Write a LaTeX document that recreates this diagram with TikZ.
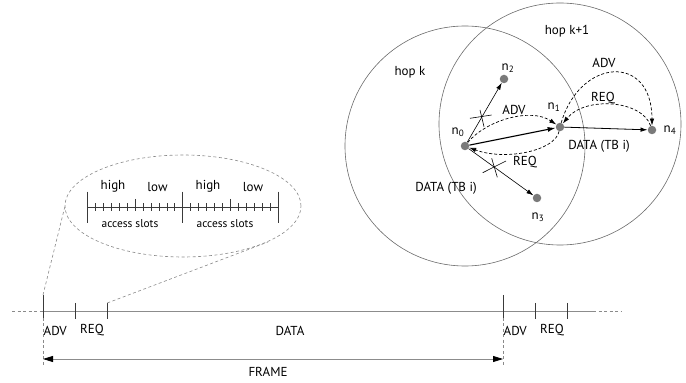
\documentclass[tikz,border=0pt]{standalone}
\usepackage{fontspec}
\setmainfont{PT Sans}
\usetikzlibrary{arrows.meta}
\definecolor{nodegray}{HTML}{7A7A7A}
\definecolor{rangegray}{HTML}{6A6A6A}
\definecolor{linegray}{HTML}{8C8C8C}
\definecolor{tickgray}{HTML}{3A3A3A}
\definecolor{guidegray}{HTML}{8A8A8A}
\begin{document}
\begin{tikzpicture}[x=1pt,y=1pt,
  every node/.style={inner sep=0pt},
  txt/.style={font=\fontsize{13}{15}\selectfont},
  smalltxt/.style={font=\fontsize{11.4}{13}\selectfont},
  station/.style={circle,fill=nodegray,draw=none,minimum size=8.5pt},
  hoprange/.style={draw=rangegray,line width=0.6pt},
  link/.style={-{Latex[length=7pt,width=4.5pt]},line width=0.6pt},
  mainlink/.style={-{Latex[length=8pt,width=5pt]},line width=1.1pt},
  ctrl/.style={-{Latex[length=7pt,width=4.5pt]},dash pattern=on 3pt off 2pt,line width=0.7pt},
  cut/.style={line width=0.6pt},
  tickmark/.style={line width=0.9pt,draw=tickgray},
  guide/.style={dash pattern=on 3pt off 2.5pt,draw=guidegray,line width=0.6pt},
  axis/.style={draw=linegray,line width=0.9pt},
  span/.style={draw=linegray,line width=0.8pt,
    {Triangle[length=10pt,width=6pt,black,fill=black]}-{Triangle[length=10pt,width=6pt,black,fill=black]}},
]
\useasboundingbox (0,0) rectangle (686,383);

% radio ranges of the two hops
\draw[hoprange] (465,237) circle[radius=120];
\draw[hoprange] (560,259) circle[radius=121];
\node[txt] (hopk) at (410,311) {hop k};
\node[txt] (hopk1) at (567,352) {hop k+1};

% stations
\node[station] (n0) at (465,237) {};
\node[station] (n1) at (560,256) {};
\node[station] (n2) at (504,304) {};
\node[station] (n3) at (537,185) {};
\node[station] (n4) at (652,253) {};
\node[txt] (ln0) at (458,251) {n\textsubscript{0}};
\node[txt] (ln1) at (554,276) {n\textsubscript{1}};
\node[txt] (ln2) at (508,315) {n\textsubscript{2}};
\node[txt] (ln3) at (538,166) {n\textsubscript{3}};
\node[txt] (ln4) at (670,253) {n\textsubscript{4}};

% data transmissions
\draw[link] (n0) -- (n2);
\draw[link] (n0) -- (n3);
\draw[mainlink] (n0) -- (n1);
\draw[link,line width=0.8pt] (n1) -- (n4);

% suppressed transmissions
\draw[cut] (470,264.7) -- (491.7,268);
\draw[cut] (480,273) -- (484,256.3);
\draw[cut] (482.7,210.3) -- (506,222);
\draw[cut] (491.7,224.7) -- (497.3,205.7);

% control messages
\draw[ctrl] (n0) .. controls (485,262) and (530,276) .. (n1);
\draw[ctrl] (n1) .. controls (555,232) and (505,222) .. (n0);
\draw[ctrl] (n1) .. controls (580,325) and (652,330) .. (n4);
\draw[ctrl] (n4) .. controls (642,283) and (585,287) .. (n1);

\node[txt] (adv1) at (514,273) {ADV};
\node[txt] (req1) at (525,221) {REQ};
\node[txt] (adv2) at (604,320) {ADV};
\node[txt] (req2) at (603,285) {REQ};
\node[txt] (data1) at (446,195) {DATA (TB i)};
\node[txt] (data2) at (599,237) {DATA (TB i)};

% frame time line
\draw[guide] (12,72) -- (43,72);
\draw[axis] (43,72) -- (593,72);
\draw[guide] (593,72) -- (622,72);
\foreach \x in {43,503}{
  \draw[tickmark] (\x,88) -- (\x,65);
  \draw[guide] (\x,65) -- (\x,16);
}
\foreach \x in {75.7,107.3,535.7,567.3}{
  \draw[tickmark] (\x,80) -- (\x,64);
}
\node[txt,anchor=west] (fadv1) at (43.5,52.5) {ADV};
\node[txt] (freq1) at (92,52.5) {REQ};
\node[txt] (fdata) at (290,52.5) {DATA};
\node[txt,anchor=west] (fadv2) at (503.5,52.5) {ADV};
\node[txt] (freq2) at (552,52.5) {REQ};

\coordinate (fs) at (43,24);
\coordinate (fe) at (503,24);
\draw[span] (fs) -- (fe);
\node[txt] (frame) at (268,11) {FRAME};

% zoomed view of the ADV/REQ period
\draw[guide] (183,177) ellipse[x radius=118, y radius=51];
\draw[guide] (43,88) -- (65,177);
\draw[guide] (107.3,80) -- (268,141);

\draw[tickmark,line width=0.8pt] (87.3,175.7) -- (278.3,175.7);
\foreach \x in {87.3,182.7,278.3}{
  \draw[tickmark] (\x,191.3) -- (\x,160.3);
}
\foreach \x in {135,230.5}{
  \draw[tickmark,line width=0.8pt] (\x,184) -- (\x,172.3);
}
\foreach \s in {87.3,135,182.7,230.5}{
  \foreach \k in {1,...,5}{
    \draw[tickmark,line width=0.6pt] (\s+\k*7.95,179.5) -- (\s+\k*7.95,172.3);
  }
}
\node[txt] (h1) at (113,196.3) {high};
\node[txt] (lo1) at (157.5,196.3) {low};
\node[txt] (h2) at (208,196.3) {high};
\node[txt] (lo2) at (253,196.3) {low};
\node[smalltxt] (as1) at (130,159.7) {access slots};
\node[smalltxt] (as2) at (225,159.7) {access slots};
\end{tikzpicture}
\end{document}
